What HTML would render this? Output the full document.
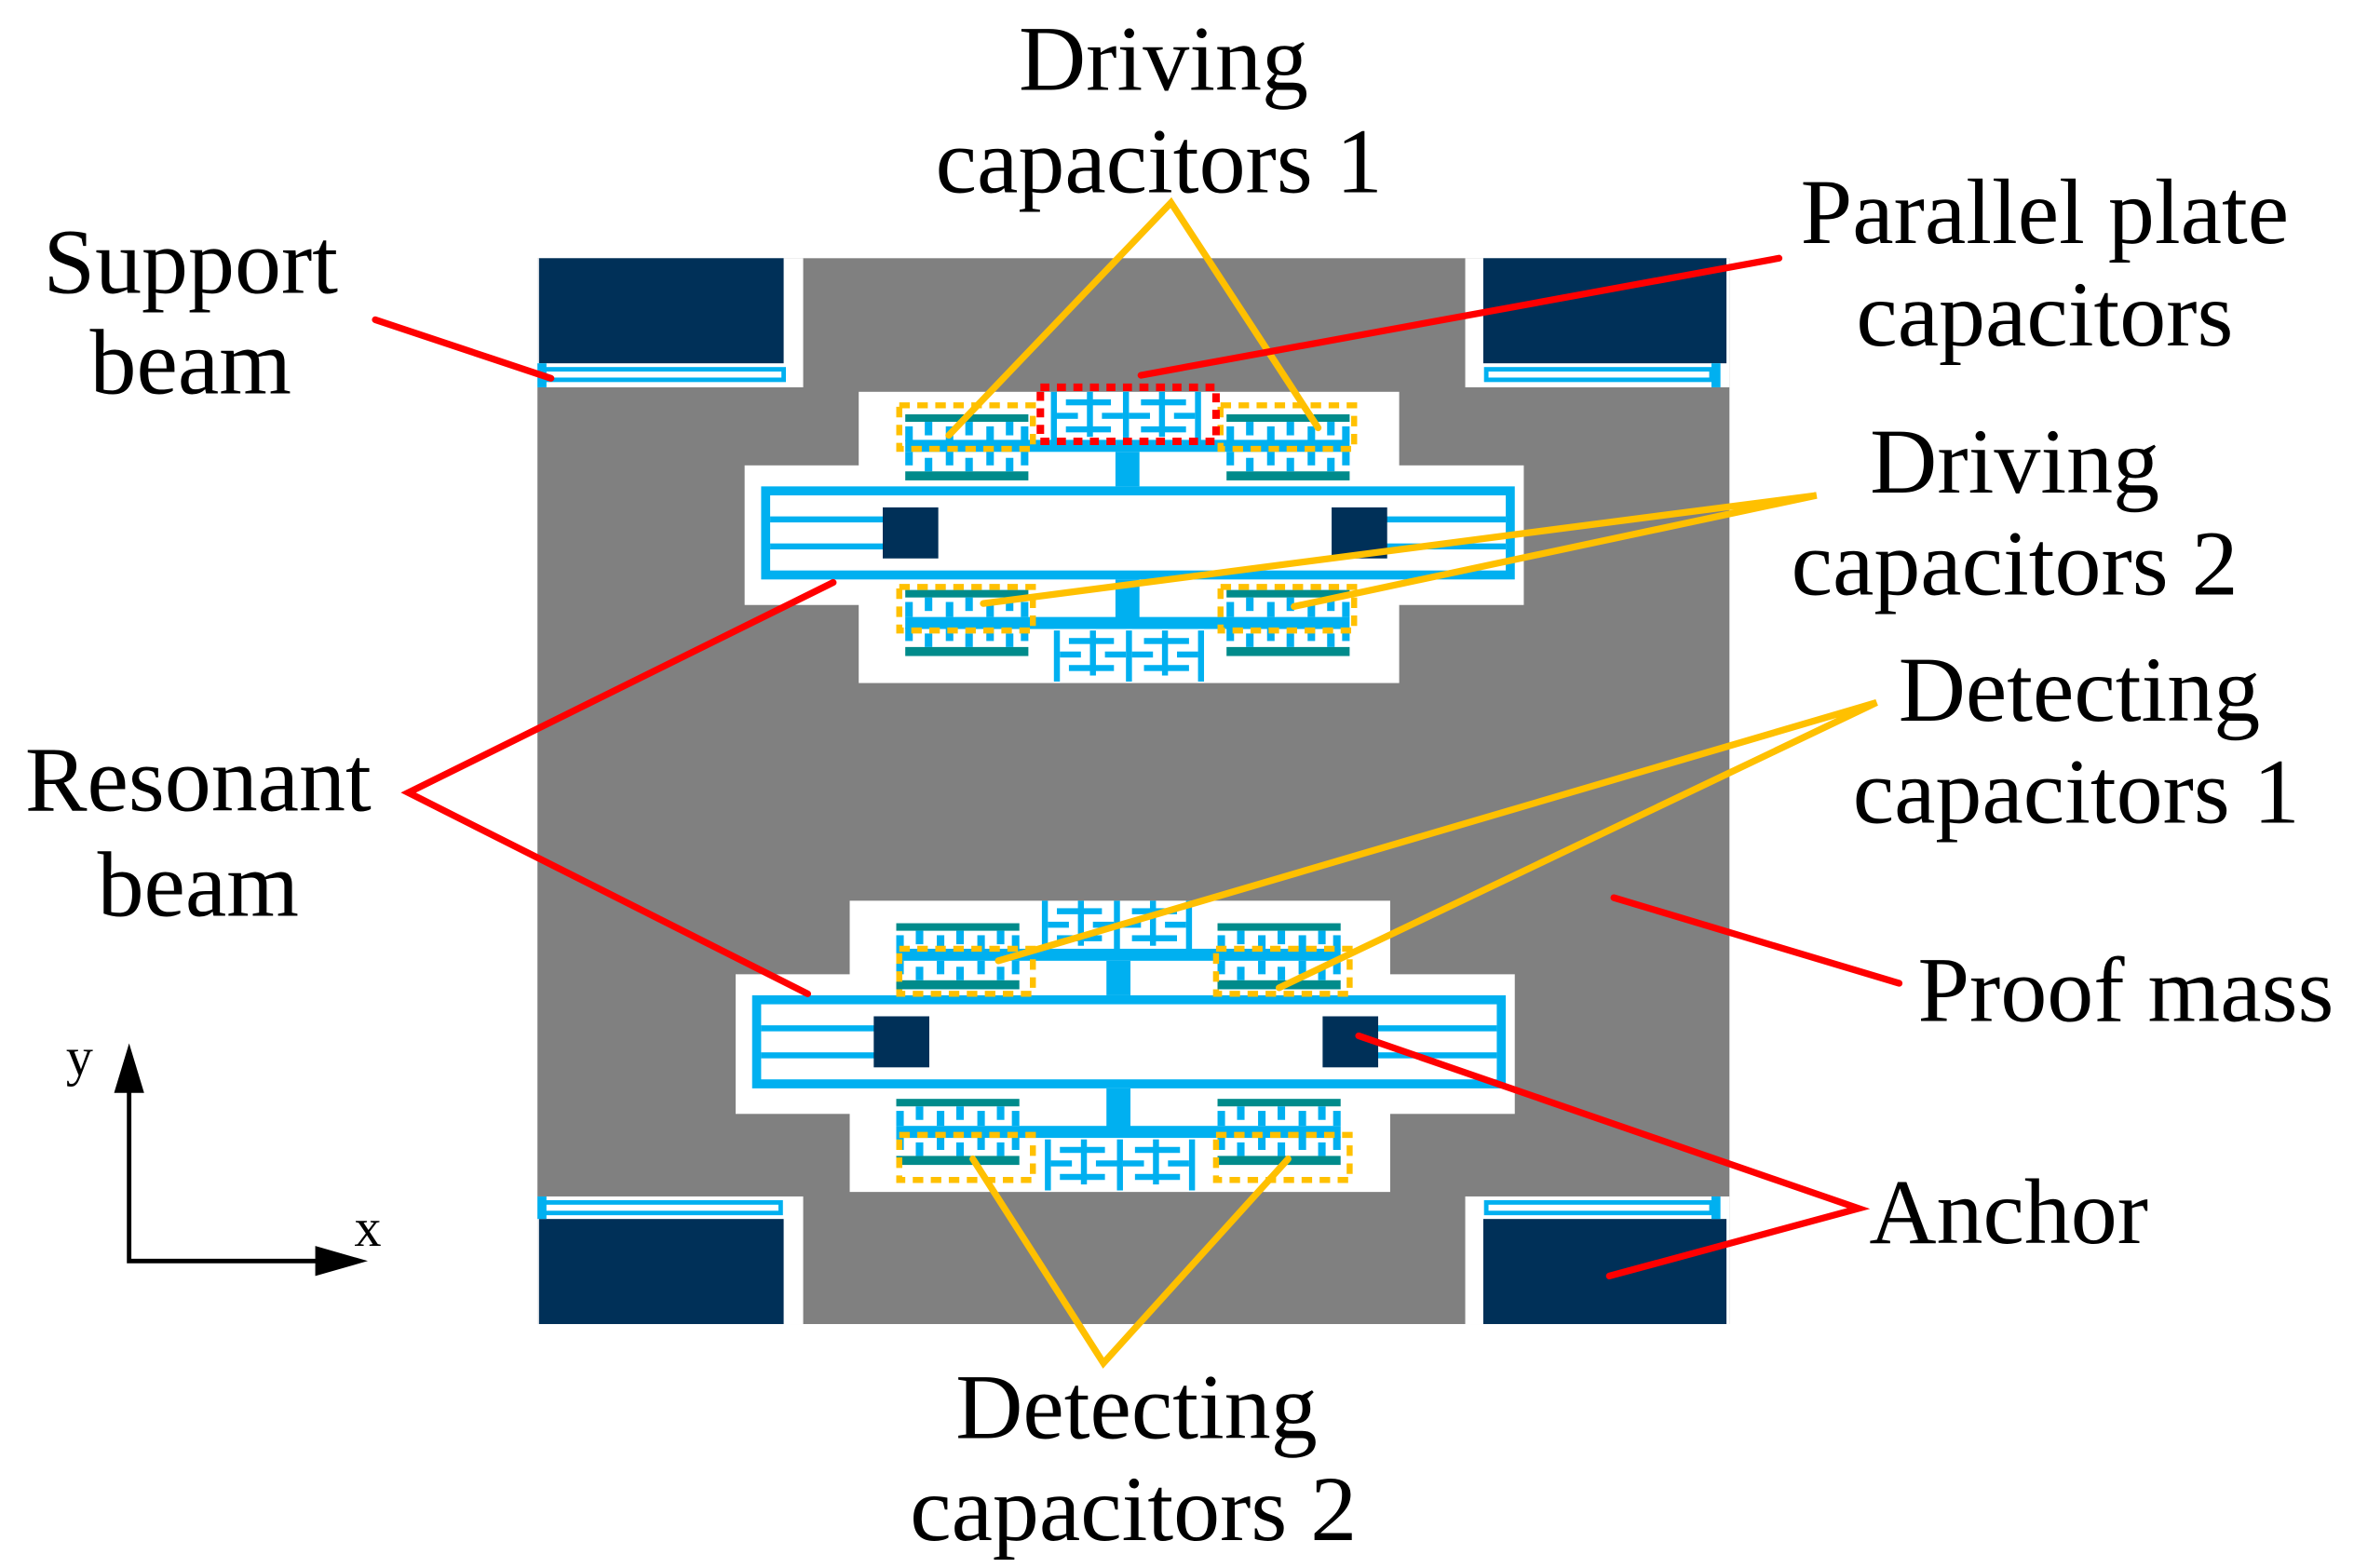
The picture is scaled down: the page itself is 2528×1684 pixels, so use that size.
<!DOCTYPE html>
<html><head><meta charset="utf-8"><style>
html,body{margin:0;padding:0;background:#fff;}
svg{display:block;}
text{font-family:"Liberation Serif",serif;font-size:62px;fill:#000;}
</style></head><body>
<svg width="2528" height="1684" viewBox="0 0 1568 1044.5" preserveAspectRatio="none" xmlns="http://www.w3.org/2000/svg">
<defs>
<g id="comb">
  <rect x="0" y="0" width="82" height="5" fill="#008b8b"/>
  <rect x="0" y="38" width="82" height="6" fill="#008b8b"/>
  <g fill="#00b0f0">
    <rect x="0" y="8" width="5" height="10"/><rect x="27" y="8" width="5" height="10"/><rect x="54" y="8" width="5" height="10"/><rect x="77" y="8" width="5" height="10"/>
    <rect x="13" y="5" width="5" height="9"/><rect x="40" y="5" width="5" height="9"/><rect x="67" y="5" width="5" height="9"/>
    <rect x="0" y="25" width="5" height="9"/><rect x="27" y="25" width="5" height="9"/><rect x="54" y="25" width="5" height="9"/><rect x="77" y="25" width="5" height="9"/>
    <rect x="13" y="29" width="5" height="9"/><rect x="40" y="29" width="5" height="9"/><rect x="67" y="29" width="5" height="9"/>
  </g>
</g>
<g id="plate" fill="#00b0f0">
  <rect x="0" y="0" width="4" height="34"/><rect x="96" y="0" width="4" height="34"/>
  <rect x="24" y="0" width="4" height="30"/><rect x="72" y="0" width="4" height="30"/>
  <rect x="48" y="0" width="4" height="34"/>
  <rect x="10" y="5" width="30" height="4"/><rect x="60" y="5" width="30" height="4"/>
  <rect x="4" y="14" width="14" height="4"/><rect x="34" y="14" width="14" height="4"/>
  <rect x="52" y="14" width="14" height="4"/><rect x="82" y="14" width="14" height="4"/>
  <rect x="10" y="23" width="30" height="4"/><rect x="60" y="23" width="30" height="4"/>
</g>
<g id="unit">
  <rect x="572" y="261" width="360" height="194" fill="#fff"/>
  <rect x="496" y="310" width="519" height="93" fill="#fff"/>
  <use href="#plate" x="700" y="261"/>
  <rect x="603" y="293" width="296" height="8" fill="#00b0f0"/>
  <use href="#comb" x="603" y="276"/>
  <use href="#comb" x="817" y="276"/>
  <rect x="743" y="301" width="16" height="23" fill="#00b0f0"/>
  <rect x="510" y="327" width="496" height="56" fill="none" stroke="#00b0f0" stroke-width="6"/>
  <rect x="513" y="344" width="78" height="4" fill="#00b0f0"/>
  <rect x="513" y="362" width="78" height="4" fill="#00b0f0"/>
  <rect x="922" y="344" width="81" height="4" fill="#00b0f0"/>
  <rect x="922" y="362" width="81" height="4" fill="#00b0f0"/>
  <rect x="588" y="338" width="37" height="34" fill="#003058"/>
  <rect x="887" y="338" width="37" height="34" fill="#003058"/>
  <rect x="743" y="386" width="16" height="26" fill="#00b0f0"/>
  <rect x="603" y="411" width="296" height="8" fill="#00b0f0"/>
  <use href="#comb" x="603" y="393"/>
  <use href="#comb" x="817" y="393"/>
  <use href="#plate" x="702" y="420"/>
</g>
</defs>

<rect x="358" y="172" width="794" height="710" fill="#808080"/>
<rect x="358" y="172" width="177" height="86" fill="#fff"/>
<rect x="976" y="172" width="176" height="86" fill="#fff"/>
<rect x="358" y="797" width="177" height="85" fill="#fff"/>
<rect x="976" y="797" width="176" height="85" fill="#fff"/>
<rect x="359" y="172" width="163" height="70" fill="#003058"/>
<rect x="988" y="172" width="162" height="70" fill="#003058"/>
<rect x="359" y="812" width="163" height="70" fill="#003058"/>
<rect x="988" y="812" width="162" height="70" fill="#003058"/>
<g fill="none" stroke="#00b0f0" stroke-width="3">
  <rect x="362" y="246" width="160" height="7"/>
  <rect x="990" y="246" width="150" height="7"/>
  <rect x="362" y="801" width="158" height="7"/>
  <rect x="990" y="801" width="150" height="7"/>
</g>
<rect x="358" y="242" width="6" height="16" fill="#00b0f0"/>
<rect x="1140" y="242" width="6" height="16" fill="#00b0f0"/>
<rect x="358" y="797" width="6" height="15" fill="#00b0f0"/>
<rect x="1140" y="797" width="6" height="15" fill="#00b0f0"/>

<use href="#unit"/>
<use href="#unit" x="-6" y="339"/>

<g fill="none" stroke="#ffc000" stroke-width="4" stroke-dasharray="7 5">
  <rect x="599" y="270" width="89" height="29"/>
  <rect x="813" y="270" width="89" height="29"/>
  <rect x="599" y="391" width="89" height="29"/>
  <rect x="813" y="391" width="89" height="29"/>
  <rect x="599" y="632" width="89" height="30"/>
  <rect x="810" y="632" width="89" height="30"/>
  <rect x="599" y="756" width="89" height="30"/>
  <rect x="810" y="756" width="89" height="30"/>
</g>
<rect x="693" y="258" width="117" height="36" fill="none" stroke="#ff0000" stroke-width="5" stroke-dasharray="6 5"/>

<g stroke="#ffc000" stroke-width="4.5" fill="none" stroke-linecap="round">
  <polyline points="632,290 780,135 878,285"/>
  <polyline points="655,402 1210,330 862,404"/>
  <polyline points="665,640 1250,468 852,658"/>
  <polyline points="648,772 735,908 858,772"/>
</g>
<g stroke="#ff0000" stroke-width="4.5" fill="none" stroke-linecap="round">
  <line x1="250" y1="213" x2="367" y2="252"/>
  <line x1="1185" y1="172" x2="760" y2="250"/>
  <polyline points="555,388 272,528 538,662"/>
  <line x1="1075" y1="598" x2="1265" y2="655"/>
  <polyline points="905,690 1238,805 1072,850"/>
</g>

<g stroke="#000" stroke-width="3" fill="none">
  <polyline points="86,720 86,840 220,840"/>
</g>
<polygon points="86,695 76,728 96,728" fill="#000"/>
<polygon points="245,840 210,830 210,850" fill="#000"/>
<text x="44" y="716" style="font-size:36px">y</text>
<text x="236" y="830" style="font-size:36px">x</text>

<g text-anchor="middle">
  <text x="775" y="60">Driving</text>
  <text x="772" y="128">capacitors 1</text>
  <text x="1362" y="162">Parallel plate</text>
  <text x="1362" y="230">capacitors</text>
  <text x="127" y="195">Support</text>
  <text x="127" y="262">beam</text>
  <text x="1342" y="328">Driving</text>
  <text x="1342" y="396">capacitors 2</text>
  <text x="1385" y="480">Detecting</text>
  <text x="1383" y="548">capacitors 1</text>
  <text x="132" y="540">Resonant</text>
  <text x="132" y="610">beam</text>
  <text x="1416" y="680">Proof mass</text>
  <text x="1338" y="828">Anchor</text>
  <text x="757" y="958">Detecting</text>
  <text x="755" y="1026">capacitors 2</text>
</g>
</svg>
</body></html>
